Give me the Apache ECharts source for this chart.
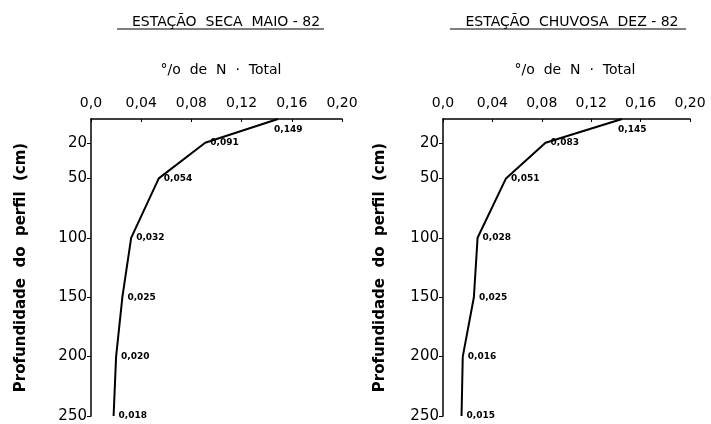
<!DOCTYPE html>
<html>
<head>
<meta charset="utf-8">
<script src="https://cdn.jsdelivr.net/npm/echarts@6/dist/echarts.min.js"></script>
<style>
  html, body { margin: 0; padding: 0; background: #fff; }
  #chart { width: 711px; height: 424px; }
</style>
</head>
<body>
<div id="chart"></div>
<script>
// depth of each sample (cm) and total N (%) for both seasons
const depths = [0, 20, 50, 100, 150, 200, 250];
const nSeca = [0.149, 0.091, 0.054, 0.032, 0.025, 0.020, 0.018];
const nChuvosa = [0.145, 0.083, 0.051, 0.028, 0.025, 0.016, 0.015];
const depthTicks = [20, 50, 100, 150, 200, 250];
const titles = ['ESTAÇÃO  SECA  MAIO - 82', 'ESTAÇÃO  CHUVOSA  DEZ - 82'];
const subTitle = '°/o  de  N  ·  Total';
const depthName = 'Profundidade  do  perfil  (cm)';

const font = 'DejaVu Sans';
const comma = v => String(v).replace('.', ',');

const chart = echarts.init(document.getElementById('chart'));

const grids = [
    { left: 91, top: 119, width: 251, height: 297 },
    { left: 443, top: 119, width: 247, height: 297 }
];

const xAxis = grids.map((g, i) => ({
    type: 'value',
    gridIndex: i,
    position: 'top',
    min: 0,
    max: 0.2,
    interval: 0.04,
    axisLine: { show: true, lineStyle: { color: '#000', width: 1.5 } },
    axisTick: { show: true, inside: true, length: 3, lineStyle: { color: '#000' } },
    splitLine: { show: false },
    axisLabel: {
        color: '#000',
        fontFamily: font,
        fontSize: 14,
        margin: 9,
        formatter: v => v === 0 ? '0,0' : comma(v.toFixed(2))
    }
}));

const yAxis = grids.map((g, i) => ({
    type: 'value',
    gridIndex: i,
    inverse: true,
    min: 0,
    max: 250,
    name: depthName,
    nameLocation: 'middle',
    nameRotate: 90,
    nameGap: i === 0 ? 62 : 55,
    nameTextStyle: { color: '#000', fontFamily: font, fontSize: 15, fontWeight: 'bold' },
    axisLine: { show: true, lineStyle: { color: '#000', width: 1.5 } },
    axisTick: { show: true, customValues: depthTicks, length: 4, lineStyle: { color: '#000' } },
    splitLine: { show: false },
    axisLabel: {
        customValues: depthTicks,
        color: '#000',
        fontFamily: font,
        fontSize: 15,
        margin: 4
    }
}));

function makeSeries(values, idx) {
    return {
        type: 'line',
        xAxisIndex: idx,
        yAxisIndex: idx,
        symbol: 'circle',
        symbolSize: 0,
        showSymbol: true,
        lineStyle: { color: '#000', width: 2 },
        itemStyle: { color: '#000' },
        data: depths.map((d, i) => ({
            value: [values[i], d],
            // surface value sits under the axis, the rest to the right of the point
            label: i === 0
                ? { position: [-4, 6] }
                : { position: 'right', offset: [2, 5] }
        })),
        label: {
            show: true,
            color: '#000',
            fontFamily: font,
            fontSize: 9,
            fontWeight: 'bold',
            formatter: p => comma(p.value[0].toFixed(3))
        },
        labelLayout: { hideOverlap: false }
    };
}

const titleStyle = { fontFamily: font, fontSize: 14, fontWeight: 'normal', color: '#000' };

const option = {
    animation: false,
    backgroundColor: '#fff',
    title: [
        { text: titles[0], left: 221, top: 10, textAlign: 'center', textStyle: titleStyle },
        { text: titles[1], left: 567, top: 10, textAlign: 'center', textStyle: titleStyle },
        { text: subTitle, left: 216, top: 58, textAlign: 'center', textStyle: titleStyle },
        { text: subTitle, left: 570, top: 58, textAlign: 'center', textStyle: titleStyle }
    ],
    // underline under the two headers
    graphic: [
        { type: 'line', shape: { x1: 117, y1: 29, x2: 324, y2: 29 }, style: { stroke: '#000', lineWidth: 1.2 } },
        { type: 'line', shape: { x1: 450, y1: 29, x2: 686, y2: 29 }, style: { stroke: '#000', lineWidth: 1.2 } }
    ],
    grid: grids,
    xAxis: xAxis,
    yAxis: yAxis,
    series: [makeSeries(nSeca, 0), makeSeries(nChuvosa, 1)]
};

chart.setOption(option);
</script>
</body>
</html>
